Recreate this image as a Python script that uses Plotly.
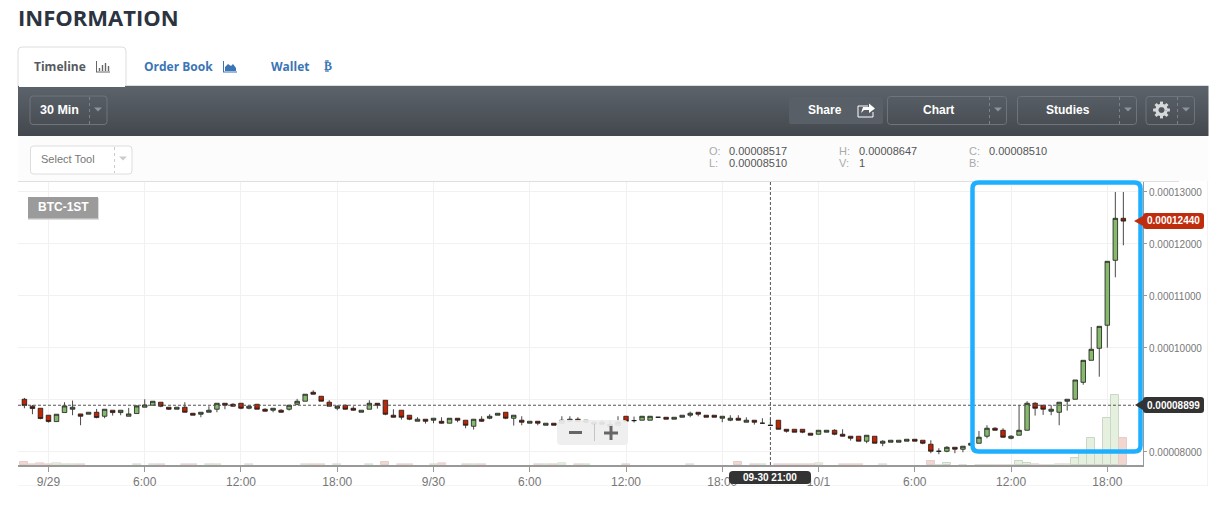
import math
import pandas as pd
import plotly.graph_objects as go

W, H = 1223, 506
SAT = 1e-8

open_sat = [9014,8880,8841,8707,8585,8758,8822,8732,8726,8764,
            8687,8803,8758,8687,8739,8861,8899,8957,8861,8822,
            8861,8745,8726,8764,8822,8937,8918,8937,8841,8918,
            8822,8803,8803,8822,8918,8976,9149,9072,8957,8841,
            8899,8841,8764,8822,8937,8995,8707,8803,8707,8591,
            8630,8611,8591,8553,8649,8611,8495,8630,8649,8707,
            8764,8649,8611,8553,8591,8514,8553,8553,8591,8630,
            8572,8534,8572,8534,8514,8687,8604,8611,8611,8668,
            8668,8630,8668,8707,8764,8707,8707,8649,8611,8649,
            8572,8611,8553,8517,8611,8437,8437,8437,8361,8341,
            8380,8418,8341,8303,8303,8207,8303,8168,8187,8187,
            8207,8245,8226,8149,8014,8014,8091,8053,8130,8168,
            8303,8457,8418,8264,8322,8418,8937,8899,8784,8764,
            8976,9014,9340,9763,9994,10437,11686,12494]
high_sat = [9040,8905,8841,8707,8726,8957,8989,8732,8764,8828,
            8822,8803,8803,8848,8899,9014,8976,8957,8861,8861,
            8957,8745,8764,8880,8937,8937,8937,8937,8899,8918,
            8841,8841,8822,8899,9021,9111,9187,9072,8995,8899,
            8912,8880,8803,8995,8937,8995,8822,8803,8707,8668,
            8630,8649,8668,8649,8649,8611,8630,8687,8726,8745,
            8764,8707,8687,8591,8591,8553,8553,8687,8687,8668,
            8611,8572,8611,8611,8687,8687,8681,8687,8687,8668,
            8668,8668,8707,8777,8764,8707,8707,8687,8707,8707,
            8668,8611,8649,8647,8611,8437,8437,8437,8361,8418,
            8418,8437,8437,8303,8303,8322,8303,8226,8226,8226,
            8245,8245,8226,8226,8072,8111,8091,8111,8168,8405,
            8514,8476,8457,8322,8899,8976,8957,8899,8899,8957,
            9014,9385,9763,10404,10417,11667,13000,13000]
low_sat = [8841,8726,8630,8566,8585,8758,8707,8514,8726,8649,
           8649,8700,8707,8687,8739,8861,8899,8861,8809,8822,
           8758,8707,8668,8764,8764,8822,8873,8822,8822,8822,
           8777,8764,8758,8796,8899,8976,9104,8976,8880,8803,
           8816,8796,8764,8822,8835,8707,8662,8623,8611,8591,
           8546,8553,8546,8553,8572,8457,8431,8578,8630,8707,
           8630,8508,8514,8553,8514,8514,8514,8553,8578,8572,
           8553,8521,8527,8482,8514,8578,8566,8611,8611,8668,
           8630,8630,8668,8668,8687,8668,8668,8572,8591,8604,
           8572,8527,8553,8510,8437,8373,8380,8361,8322,8341,
           8380,8322,8296,8220,8207,8168,8168,8111,8187,8187,
           8207,8207,8149,7976,7957,7995,7976,7995,8130,8168,
           8264,8412,8271,8245,8322,8418,8700,8713,8707,8514,
           8796,9014,9294,9763,9448,10006,11360,11975]
close_sat = [8893,8835,8643,8585,8726,8886,8861,8687,8764,8662,
             8822,8758,8803,8732,8886,8905,8976,8880,8822,8861,
             8764,8707,8764,8803,8937,8899,8880,8841,8880,8822,
             8784,8841,8764,8899,8976,9111,9111,8976,8880,8880,
             8822,8803,8803,8937,8899,8726,8668,8668,8630,8630,
             8591,8649,8553,8649,8611,8514,8630,8591,8687,8745,
             8649,8707,8572,8591,8553,8553,8514,8611,8630,8591,
             8611,8572,8534,8495,8572,8591,8604,8687,8687,8668,
             8630,8668,8707,8745,8726,8668,8668,8687,8649,8611,
             8611,8572,8553,8510,8437,8399,8380,8380,8322,8418,
             8418,8341,8303,8264,8207,8322,8168,8207,8226,8226,
             8245,8207,8168,8014,8014,8091,8053,8111,8168,8284,
             8457,8418,8284,8303,8418,8937,8841,8822,8822,8957,
             9014,9385,9763,9975,10417,11667,12494,12440]
volume = [3,1,2,1,2,1,1,1,0,0,
          0,0,0,0,1,0,1,1,0,0,
          1,1,0,1,1,0,0,0,1,0,
          0,0,0,0,0,1,1,1,0,1,
          0,0,0,1,0,3,0,1,1,0,
          0,1,2,0,0,1,1,1,0,0,
          0,0,0,0,1,1,1,2,0,1,
          1,0,0,0,0,1,0,0,0,0,
          0,0,0,1,0,0,0,0,0,3,
          0,1,1,0,1,1,1,1,1,2,
          0,0,1,1,1,0,0,1,0,0,
          0,0,0,4.7,0.7,2.7,0,0.7,0,0.7,
          0.7,0.7,0.7,0.7,4,2.7,1.7,0.7,0.7,1.7,
          1.7,7.7,13,27.7,13,47.7,70.7,27.7]

first_candle = "2016-09-28 22:30"
tick_dates = ["2016-09-29 00:00","2016-09-29 06:00","2016-09-29 12:00","2016-09-29 18:00",
              "2016-09-30 00:00","2016-09-30 06:00","2016-09-30 12:00","2016-09-30 18:00",
              "2016-10-01 00:00","2016-10-01 06:00","2016-10-01 12:00","2016-10-01 18:00"]
tick_labels = ["9/29","6:00","12:00","18:00","9/30","6:00","12:00","18:00","10/1","6:00","12:00","18:00"]
price_ticks = [8000,9000,10000,11000,12000,13000]
# the 9000 label sits behind the crosshair price tag in the reference
price_labels = ["0.00008000","","0.00010000","0.00011000","0.00012000","0.00013000"]
crosshair_time = "2016-09-30 21:00"
crosshair_price = 8899
last_price = 12440

times = pd.date_range(first_candle, periods=len(open_sat), freq="30min")
step = pd.Timedelta(minutes=30)

def sat(a):
    return [v * SAT for v in a]

UP_FILL, DOWN_FILL = "#86b96c", "#c22300"
vol_fill = ["#e6f0df" if c >= o else "#f3d6d0" for o, c in zip(open_sat, close_sat)]
vol_line = ["#ccd6c6" if c >= o else "#e0cfcb" for o, c in zip(open_sat, close_sat)]
vol_lw = [(1 if v > 2 else 0.6) if v > 0 else 0 for v in volume]

def X(x): return x / W
def Y(y): return 1 - y / H

shapes, notes = [], []

def rrect(x0, y0, x1, y1, r=3, fill=None, line=None, lw=1, dash=None):
    p = (f"M {X(x0+r)} {Y(y0)} L {X(x1-r)} {Y(y0)} Q {X(x1)} {Y(y0)} {X(x1)} {Y(y0+r)} "
         f"L {X(x1)} {Y(y1-r)} Q {X(x1)} {Y(y1)} {X(x1-r)} {Y(y1)} "
         f"L {X(x0+r)} {Y(y1)} Q {X(x0)} {Y(y1)} {X(x0)} {Y(y1-r)} "
         f"L {X(x0)} {Y(y0+r)} Q {X(x0)} {Y(y0)} {X(x0+r)} {Y(y0)} Z")
    shapes.append(dict(type="path", path=p, xref="paper", yref="paper", layer="above",
                       fillcolor=fill or "rgba(0,0,0,0)",
                       line=dict(color=line or "rgba(0,0,0,0)", width=lw if line else 0)))

def rect(x0, y0, x1, y1, fill, layer="above"):
    shapes.append(dict(type="rect", xref="paper", yref="paper", layer=layer,
                       x0=X(x0), x1=X(x1), y0=Y(y0), y1=Y(y1), fillcolor=fill, line=dict(width=0)))

def seg(x0, y0, x1, y1, color, lw=1, dash=None, layer="above"):
    shapes.append(dict(type="line", xref="paper", yref="paper", layer=layer,
                       x0=X(x0), x1=X(x1), y0=Y(y0), y1=Y(y1),
                       line=dict(color=color, width=lw, dash=dash or "solid")))

def poly(pts, fill=None, line=None, lw=1):
    p = "M " + " L ".join(f"{X(a)} {Y(b)}" for a, b in pts)
    if fill:
        p += " Z"
    shapes.append(dict(type="path", path=p, xref="paper", yref="paper", layer="above",
                       fillcolor=fill or "rgba(0,0,0,0)",
                       line=dict(color=line or "rgba(0,0,0,0)", width=lw if line else 0)))

def text(x, y, s, size=12, color="#333", fam="Liberation Sans", bold=False, anchor="left"):
    notes.append(dict(x=X(x), y=Y(y), xref="paper", yref="paper", text=f"<b>{s}</b>" if bold else s,
                      showarrow=False, xanchor=anchor, yanchor="middle", borderpad=0, borderwidth=0,
                      font=dict(family=fam, size=size, color=color)))

def caret(cx, cy, color):
    poly([(cx-4, cy-2), (cx+4, cy-2), (cx, cy+2)], fill=color)

# page chrome
text(18, 17, "INFORMATION", 22, "#2b3440", "Open Sans", True)
rrect(18, 47, 126, 92, 4, fill="#ffffff", line="#dddddd")
text(34, 66, "Timeline", 12, "#555a60", "Open Sans", True)
text(144, 66, "Order Book", 12, "#3a75b5", "Open Sans", True)
text(271, 66, "Wallet", 12, "#3a75b5", "Open Sans", True)
text(328, 66, "₿", 12, "#3a75b5", "DejaVu Sans", True, "center")
# timeline icon
seg(96.5, 61, 96.5, 72, "#666"); seg(96, 72, 110, 72, "#666")
for bx, top in [(99.5, 68), (102.5, 65), (105.5, 63), (108.5, 66)]:
    seg(bx, top, bx, 71, "#666", 1.4)
# order-book icon
seg(223.5, 61, 223.5, 72, "#3a75b5"); seg(223, 72, 237, 72, "#3a75b5")
poly([(225, 71), (225, 67), (228, 64), (231, 66), (233, 64), (236, 68), (236, 71)], fill="#3a75b5")

# toolbar gradient
for i in range(50):
    t = i / 49
    c = tuple(round(a + (b - a) * t) for a, b in zip((92, 99, 106), (67, 72, 78)))
    rect(18, 86 + i, 1208.5, 87 + i, f"rgb{c}")
seg(18, 85.5, 1208.5, 85.5, "#dddddd")
rect(19, 84, 125, 87, "#ffffff")

BTN = "#6d747a"
rrect(30, 96, 107, 124.5, 3, line=BTN)
seg(89.5, 97, 89.5, 124, "#7c8288", 1, "dot")
text(59.5, 110, "30 Min", 12.5, "#ffffff", bold=True, anchor="center")
caret(98, 109.5, "#8d9399")

rrect(789, 97, 883, 124, 2, fill="#595f66")
text(825, 110, "Share", 12, "#ffffff", bold=True, anchor="center")
poly([(868, 106), (858, 106), (858, 117), (873, 117), (873, 112)], line="#ffffff", lw=1)
poly([(861, 113), (863, 107), (869, 107), (869, 103.5), (875, 108.5), (869, 113), (869, 110), (864, 110)], fill="#ffffff")

rrect(887.5, 96.5, 1006.5, 124.5, 3, line=BTN)
seg(989.5, 97, 989.5, 124, "#7c8288", 1, "dot")
text(938, 110, "Chart", 12, "#ffffff", bold=True, anchor="center")
caret(998, 109.5, "#8d9399")

rrect(1017.5, 96.5, 1136.5, 124.5, 3, line=BTN)
seg(1119.5, 97, 1119.5, 124, "#7c8288", 1, "dot")
text(1068, 110, "Studies", 12, "#ffffff", bold=True, anchor="center")
caret(1128, 109.5, "#8d9399")

rrect(1146, 96.5, 1194.5, 124.5, 3, line=BTN)
seg(1177.5, 97, 1177.5, 124, "#7c8288", 1, "dot")
# gear drawn from a ring and teeth
GEAR = "#d6d8da"
gx, gy = 1161.5, 110
ring = [(gx + 4.6 * math.cos(a * math.pi / 12), gy + 4.6 * math.sin(a * math.pi / 12)) for a in range(24)]
poly(ring + [ring[0]], line=GEAR, lw=3.2)
for a in range(8):
    ang = a * math.pi / 4
    seg(gx + 5.5 * math.cos(ang), gy + 5.5 * math.sin(ang),
        gx + 8.4 * math.cos(ang), gy + 8.4 * math.sin(ang), GEAR, 3)
caret(1186, 109.5, "#8d9399")

# info strip
rect(18, 136, 1208.5, 181, "#fcfcfc")
seg(18, 181.5, 1179, 181.5, "#dfdfdf")
rrect(30.5, 146, 132, 174, 3, fill="#ffffff", line="#dddddd")
seg(114.5, 147, 114.5, 173, "#cccccc", 1, "dot")
text(68, 159, "Select Tool", 11, "#777777", anchor="center")
caret(123, 158.5, "#cccccc")
for x, s, y in [(709, "O:", 151), (709, "L:", 163), (839, "H:", 151), (839, "V:", 163), (969, "C:", 151), (969, "B:", 163)]:
    text(x, y, s, 11, "#aaaaaa")
for x, s, y in [(729, "0.00008517", 151), (729, "0.00008510", 163), (859, "0.00008647", 151),
                (859, "1", 163), (989, "0.00008510", 151)]:
    text(x, y, s, 11, "#555555")

# page edges
seg(18, 485.5, 1208, 485.5, "#f5f5f5", layer="below")
seg(1207.5, 181, 1207.5, 486, "#f3f3f3", layer="below")

# series tag
rect(28, 198, 99, 220, "#dddddd")
rect(28, 197, 98, 218.5, "#9b9b9b")
text(63, 207.5, "BTC-1ST", 12, "#ffffff", bold=True, anchor="center")

# crosshair, referenced to the chart's own axes
shapes.append(dict(type="line", xref="x", yref="paper", layer="above", x0=crosshair_time, x1=crosshair_time,
                   y0=Y(465), y1=Y(182), line=dict(color="#555555", width=1, dash="3px,2px")))
shapes.append(dict(type="line", xref="paper", yref="y2", layer="above", x0=X(18), x1=X(1134),
                   y0=crosshair_price * SAT, y1=crosshair_price * SAT,
                   line=dict(color="#555555", width=1, dash="3px,2px")))

# zoom control
rrect(557, 420, 628, 445, 4, fill="rgba(238,238,238,0.92)")
rect(569, 431, 582, 434, "#666666")
seg(594.5, 424, 594.5, 441, "#c4c4c4")
rect(604, 431.5, 618, 434.5, "#666666")
rect(609.5, 426, 612.5, 440, "#666666")

# highlight frame
rrect(972.5, 182.5, 1140.5, 451.5, 6, line="#1eb0ff", lw=4.5)

# price tags
poly([(1134, 221), (1143, 216), (1143, 226)], fill="#bf2d0e")
rrect(1143, 213, 1204, 229, 3, fill="#bf2d0e")
text(1173.5, 221, "0.00012440", 10, "#ffffff", bold=True, anchor="center")
poly([(1135, 405), (1143, 400), (1143, 410)], fill="#333333")
rrect(1143, 397, 1204, 413, 3, fill="#333333")
text(1173.5, 405, "0.00008899", 10, "#ffffff", bold=True, anchor="center")
rrect(729, 471, 811, 484, 4, fill="#333333")
text(770, 477.5, "09-30 21:00", 10, "#ffffff", bold=True, anchor="center")

fig = go.Figure()
fig.add_trace(go.Bar(x=times, y=volume, width=step.total_seconds() * 1000, yaxis="y",
                     marker=dict(color=vol_fill, line=dict(color=vol_line, width=vol_lw)),
                     hoverinfo="skip", showlegend=False))
fig.add_trace(go.Candlestick(x=times, open=sat(open_sat), high=sat(high_sat), low=sat(low_sat), close=sat(close_sat),
                             yaxis="y2", whiskerwidth=0, showlegend=False,
                             increasing=dict(fillcolor=UP_FILL, line=dict(color="#1a1a1a", width=0.8)),
                             decreasing=dict(fillcolor=DOWN_FILL, line=dict(color="#1a1a1a", width=0.8))))

x_lo = times[0] - step * 0.8
x_hi = times[-1] + step * 2.45
dom_y = [Y(465.3), Y(182)]
fig.update_layout(
    width=W, height=H, autosize=False, margin=dict(l=0, r=0, t=0, b=0, pad=0),
    paper_bgcolor="#ffffff", plot_bgcolor="#ffffff", showlegend=False,
    boxgap=0.25, boxgroupgap=0.25, bargap=0, boxmode="overlay", hovermode=False,
    shapes=shapes, annotations=notes,
    font=dict(family="Liberation Sans", size=12, color="#777777"),
    xaxis=dict(type="date", domain=[X(18), X(1143)], range=[x_lo, x_hi], rangeslider=dict(visible=False),
               tickmode="array", tickvals=tick_dates, ticktext=tick_labels,
               tickfont=dict(size=12, color="#777777"), ticks="outside", ticklen=5, tickcolor="#999999",
               showline=True, linecolor="#999999", linewidth=1.5, showgrid=True, gridcolor="#f1f1f1",
               zeroline=False, anchor="y"),
    yaxis=dict(domain=dom_y, range=[0, 283.3], visible=False, showgrid=False, zeroline=False, fixedrange=True),
    yaxis2=dict(overlaying="y", anchor="x", side="right", range=[7744 * SAT, 13192 * SAT],
                tickmode="array", tickvals=sat(price_ticks), ticktext=price_labels,
                tickfont=dict(size=10, color="#777777"), ticks="outside", ticklen=3, tickcolor="#999999",
                ticklabelshift=1,
                showline=True, linecolor="#999999", linewidth=1, showgrid=True, gridcolor="#f1f1f1",
                zeroline=False),
)

fig.write_html("out.html", config=dict(displayModeBar=False),
               post_script="document.body.style.margin='0';document.body.style.overflow='hidden';")
